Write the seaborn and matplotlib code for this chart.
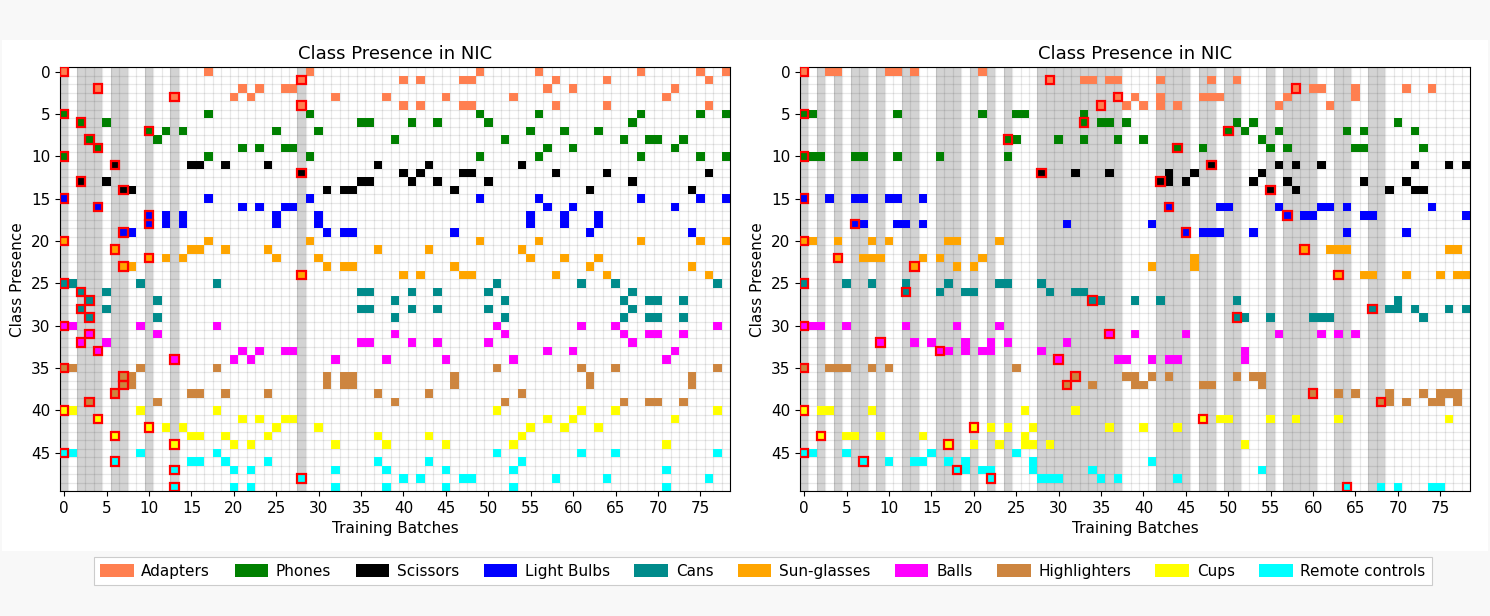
import numpy as np
import pandas as pd
import matplotlib
matplotlib.use("Agg")
import matplotlib.pyplot as plt
from matplotlib.colors import ListedColormap
from matplotlib.patches import Rectangle, Patch
import seaborn as sns

# ---------------- data ----------------
categories = ["Adapters", "Phones", "Scissors", "Light Bulbs", "Cans",
              "Sun-glasses", "Balls", "Highlighters", "Cups", "Remote controls"]
category_colors = ["coral", "green", "black", "blue", "darkcyan",
                   "orange", "magenta", "peru", "yellow", "cyan"]

# category index (into `categories`) of each of the 50 classes (rows)
class_category = ([0] * 5 + [1] * 6 + [2] * 4 + [3] * 5 + [5] * 5 +
                  [4] * 5 + [6] * 5 + [7] * 5 + [8] * 5 + [9] * 5)

n_batches = 79
x_tick_labels = list(range(0, 80, 5))
y_tick_labels = list(range(0, 50, 5))

# training batches in which each class (row) is present - left run
left_class_batches = [
    [0, 17, 29, 49, 56, 68, 75, 78],
    [28, 40, 42, 47, 48, 58, 64, 76],
    [4, 21, 23, 26, 27, 57, 60, 72],
    [13, 20, 22, 32, 38, 45, 53, 71],
    [28, 40, 42, 47, 48, 58, 64, 76],
    [0, 17, 29, 49, 56, 68, 75, 78],
    [2, 5, 35, 36, 41, 44, 50, 67],
    [10, 12, 14, 25, 30, 55, 59, 63],
    [3, 11, 39, 52, 66, 69, 70, 73],
    [4, 21, 23, 26, 27, 57, 60, 72],
    [0, 17, 29, 49, 56, 68, 75, 78],
    [6, 15, 16, 19, 24, 37, 43, 54],
    [28, 40, 42, 47, 48, 58, 64, 76],
    [2, 5, 35, 36, 41, 44, 50, 67],
    [7, 8, 31, 33, 34, 46, 62, 74],
    [0, 17, 29, 49, 56, 68, 75, 78],
    [4, 21, 23, 26, 27, 57, 60, 72],
    [10, 12, 14, 25, 30, 55, 59, 63],
    [10, 12, 14, 25, 30, 55, 59, 63],
    [7, 8, 31, 33, 34, 46, 62, 74],
    [0, 17, 29, 49, 56, 68, 75, 78],
    [6, 15, 16, 19, 24, 37, 43, 54],
    [10, 12, 14, 25, 30, 55, 59, 63],
    [7, 8, 31, 33, 34, 46, 62, 74],
    [28, 40, 42, 47, 48, 58, 64, 76],
    [0, 1, 9, 18, 51, 61, 65, 77],
    [2, 5, 35, 36, 41, 44, 50, 67],
    [3, 11, 39, 52, 66, 69, 70, 73],
    [2, 5, 35, 36, 41, 44, 50, 67],
    [3, 11, 39, 52, 66, 69, 70, 73],
    [0, 1, 9, 18, 51, 61, 65, 77],
    [3, 11, 39, 52, 66, 69, 70, 73],
    [2, 5, 35, 36, 41, 44, 50, 67],
    [4, 21, 23, 26, 27, 57, 60, 72],
    [13, 20, 22, 32, 38, 45, 53, 71],
    [0, 1, 9, 18, 51, 61, 65, 77],
    [7, 8, 31, 33, 34, 46, 62, 74],
    [7, 8, 31, 33, 34, 46, 62, 74],
    [6, 15, 16, 19, 24, 37, 43, 54],
    [3, 11, 39, 52, 66, 69, 70, 73],
    [0, 1, 9, 18, 51, 61, 65, 77],
    [4, 21, 23, 26, 27, 57, 60, 72],
    [10, 12, 14, 25, 30, 55, 59, 63],
    [6, 15, 16, 19, 24, 37, 43, 54],
    [13, 20, 22, 32, 38, 45, 53, 71],
    [0, 1, 9, 18, 51, 61, 65, 77],
    [6, 15, 16, 19, 24, 37, 43, 54],
    [13, 20, 22, 32, 38, 45, 53, 71],
    [28, 40, 42, 47, 48, 58, 64, 76],
    [13, 20, 22, 32, 38, 45, 53, 71],
]

# training batches in which each class (row) is present - right run
right_class_batches = [
    [0, 3, 4, 10, 11, 13, 21],
    [29, 33, 34, 36, 37, 42, 48, 51],
    [58, 60, 61, 65, 71, 74],
    [37, 39, 42, 47, 48, 49, 57, 65],
    [35, 38, 40, 42, 44, 56, 62],
    [0, 1, 11, 21, 25, 26, 33],
    [33, 35, 36, 38, 51, 53, 70],
    [50, 52, 56, 64, 66, 72],
    [24, 25, 30, 33, 37, 40, 54],
    [44, 47, 55, 57, 65, 66, 73],
    [0, 1, 2, 6, 7, 11, 16, 24],
    [48, 56, 58, 61, 72, 76, 78],
    [28, 32, 36, 43, 46, 54],
    [42, 43, 45, 53, 57, 66, 71],
    [55, 58, 69, 72, 73],
    [0, 3, 6, 7, 10, 11, 14],
    [43, 49, 50, 56, 61, 62, 64, 74],
    [57, 59, 60, 66, 67, 78],
    [6, 7, 11, 12, 14, 31, 41],
    [45, 47, 48, 49, 53, 64, 71],
    [0, 1, 4, 8, 10, 17, 18, 23],
    [59, 62, 63, 64, 76, 77],
    [4, 7, 8, 9, 14, 16, 21, 46],
    [13, 18, 20, 41, 46],
    [63, 66, 67, 71, 75, 77, 78],
    [0, 5, 8, 12, 17, 23, 24, 28],
    [12, 16, 19, 20, 29, 32, 33],
    [34, 35, 39, 42, 51, 70],
    [67, 69, 70, 72, 76, 78],
    [51, 52, 55, 60, 61, 62, 73],
    [0, 1, 2, 5, 12, 18, 23],
    [36, 39, 45, 56, 61, 63, 65],
    [9, 13, 15, 19, 22, 24, 31],
    [16, 17, 19, 21, 22, 28, 52],
    [30, 37, 38, 41, 43, 44, 52],
    [0, 3, 4, 5, 8, 10, 25],
    [32, 38, 39, 41, 43, 51, 53, 54],
    [31, 34, 39, 40, 47, 48, 54],
    [60, 63, 65, 69, 73, 75, 76, 77],
    [68, 69, 71, 74, 75, 77],
    [0, 2, 3, 8, 26, 32],
    [47, 49, 50, 55, 58, 63, 76],
    [20, 22, 24, 27, 36, 40, 44],
    [2, 5, 6, 9, 14, 26],
    [17, 20, 23, 26, 27, 29, 52],
    [0, 1, 5, 15, 25],
    [7, 10, 13, 14, 17, 19, 27, 41],
    [18, 19, 21, 22, 27, 34, 54],
    [22, 28, 29, 30, 35, 37, 44],
    [64, 68, 70, 74, 75],
]

# ---------------- plotting ----------------
plt.rcParams["font.family"] = ["DejaVu Sans"]
cmap = ListedColormap(category_colors)


def draw_panel(ax, class_batches):
    n_classes = len(class_batches)
    mat = np.full((n_classes, n_batches), np.nan)
    for r, cols in enumerate(class_batches):
        mat[r, cols] = class_category[r]
    df = pd.DataFrame(mat)

    first_seen = [min(cols) for cols in class_batches]
    for c in sorted(set(first_seen)):
        ax.axvspan(c, c + 1, color="lightgray", lw=0, zorder=0)

    sns.heatmap(df, ax=ax, cmap=cmap, vmin=-0.5, vmax=len(categories) - 0.5,
                cbar=False, xticklabels=False, yticklabels=False)

    for r, c in enumerate(first_seen):
        ax.add_patch(Rectangle((c, r), 1, 1, fill=False, edgecolor="red",
                               lw=1.6, zorder=3))

    ax.set_axisbelow(True)
    ax.set_xticks(np.arange(n_batches + 1), minor=True)
    ax.set_yticks(np.arange(n_classes + 1), minor=True)
    ax.grid(which="minor", color="black", alpha=0.09, lw=0.9)
    ax.grid(which="major", visible=False)
    ax.tick_params(which="minor", length=0)

    ax.set_xticks([v + 0.5 for v in x_tick_labels])
    ax.set_xticklabels([str(v) for v in x_tick_labels], fontsize=11, rotation=0)
    ax.set_yticks([v + 0.5 for v in y_tick_labels])
    ax.set_yticklabels([str(v) for v in y_tick_labels], fontsize=11, rotation=0)
    ax.tick_params(which="major", length=3.5, width=0.8, direction="out",
                   bottom=True, left=True, colors="black")
    for s in ax.spines.values():
        s.set_visible(True)
        s.set_color("black")
        s.set_linewidth(0.8)
    ax.set_xlim(0, n_batches)
    ax.set_ylim(n_classes, 0)
    ax.set_title("Class Presence in NIC", fontsize=13)
    ax.set_xlabel("Training Batches", fontsize=11)
    ax.set_ylabel("Class Presence", fontsize=11)


fig = plt.figure(figsize=(14.9, 6.16), dpi=100, facecolor="#f8f8f8")
fig.add_artist(Rectangle((0.0013, 0.1055), 0.9974, 0.8295,
                         transform=fig.transFigure, facecolor="white",
                         edgecolor="none", zorder=0))

ax1 = fig.add_axes([0.04027, 0.20292, 0.44966, 0.68782])
ax2 = fig.add_axes([0.53691, 0.20292, 0.44966, 0.68782])
draw_panel(ax1, left_class_batches)
draw_panel(ax2, right_class_batches)

handles = [Patch(facecolor=col, edgecolor="none", label=lab)
           for lab, col in zip(categories, category_colors)]
leg = fig.legend(handles=handles, loc="center", bbox_to_anchor=(0.512, 0.073),
                 ncol=len(categories), fontsize=11, frameon=True, fancybox=False,
                 edgecolor="#cccccc", framealpha=1.0, handlelength=2.2,
                 handleheight=0.9, handletextpad=0.5, columnspacing=1.6,
                 borderpad=0.4)
leg.get_frame().set_linewidth(0.8)

fig.savefig("out.png", dpi=100, facecolor=fig.get_facecolor())
